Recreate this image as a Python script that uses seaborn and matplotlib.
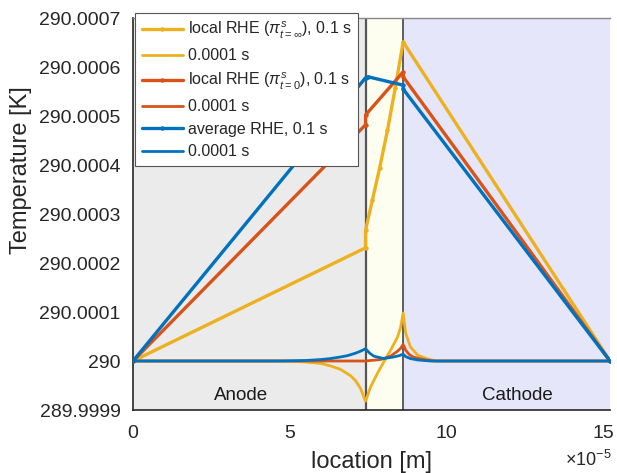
import matplotlib
matplotlib.use("Agg")
import matplotlib.pyplot as plt
from matplotlib.ticker import FixedLocator, FixedFormatter
import numpy as np
import pandas as pd
import seaborn as sns

# ---------------- data (x in 1e-5 m, temperature rise in 1e-4 K above 290 K) -------------
X_UNIT = 1e-5
T_BASE = 290.0
DT_UNIT = 1e-4

# region boundaries
anode_end = 7.42
membrane_end = 8.62
x_end = 15.22

# 0.1 s curves
yel_x_01 = [0, 7.42, 7.42, 7.64, 7.87, 8.12, 8.37, 8.62, 15.22]
yel_y_01 = [0, 2.31, 2.67, 3.29, 3.94, 4.71, 5.58, 6.51, 0]

ora_x_01 = [0, 7.42, 7.42, 8.62, 8.62, 15.22]
ora_y_01 = [0, 4.82, 5.02, 5.90, 5.80, 0]

blu_x_01 = [0, 7.42, 7.50, 8.62, 8.62, 15.22]
blu_y_01 = [0, 5.78, 5.80, 5.63, 5.55, 0]

# 0.0001 s curves
yel_x_1e4 = [0, 4.8, 5.5, 6.0, 6.3, 6.62, 6.94, 7.1, 7.26, 7.42, 7.58, 7.8, 8.0, 8.22,
             8.44, 8.54, 8.62, 8.7, 8.85, 9.08, 9.4, 9.7, 15.22]
yel_y_1e4 = [0, 0, -0.02, -0.05, -0.1, -0.17, -0.3, -0.4, -0.56, -0.82, -0.53, -0.25, -0.02, 0.22,
             0.49, 0.69, 0.98, 0.57, 0.29, 0.12, 0.04, 0.0, 0]

ora_x_1e4 = [0, 7.42, 7.9, 8.22, 8.44, 8.54, 8.62, 8.7, 8.82, 8.95, 9.27, 9.6, 15.22]
ora_y_1e4 = [0, 0, 0.03, 0.1, 0.2, 0.26, 0.34, 0.22, 0.13, 0.08, 0.03, 0, 0]

blu_x_1e4 = [0, 4.7, 5.5, 6.0, 6.3, 6.6, 6.85, 7.1, 7.26, 7.42, 7.55, 7.68, 8.0, 8.3, 8.5,
             8.62, 8.7, 8.85, 9.1, 9.5, 15.22]
blu_y_1e4 = [0, 0, 0.01, 0.03, 0.05, 0.08, 0.11, 0.16, 0.2, 0.25, 0.16, 0.1, 0.05, 0.08, 0.11,
             0.14, 0.09, 0.05, 0.02, 0, 0]

labels = [r"local RHE ($\pi^{s}_{t=\infty}$), 0.1 s", "0.0001 s",
          r"local RHE ($\pi^{s}_{t=0}$), 0.1 s", "0.0001 s",
          "average RHE, 0.1 s", "0.0001 s"]

ytick_vals = [289.9999, 290.0, 290.0001, 290.0002, 290.0003, 290.0004, 290.0005, 290.0006, 290.0007]
ytick_labels = ["289.9999", "290", "290.0001", "290.0002", "290.0003", "290.0004",
                "290.0005", "290.0006", "290.0007"]
xtick_vals = [0, 5, 10, 15]
xtick_labels = ["0", "5", "10", "15"]

# ---------------- style ----------------
sns.set_theme(style="white")
plt.rcParams["font.family"] = ["Liberation Sans", "DejaVu Sans"]
plt.rcParams["mathtext.fontset"] = "custom"
plt.rcParams["mathtext.rm"] = "Liberation Sans"
plt.rcParams["mathtext.it"] = "Liberation Sans:italic"
plt.rcParams["mathtext.bf"] = "Liberation Sans:bold"

C_BLUE = "#0072BD"
C_ORANGE = "#D95319"
C_YELLOW = "#EDB120"

fig = plt.figure(figsize=(6.17, 4.73), dpi=100)
ax = fig.add_axes([133 / 617, 1 - 410 / 473, 477 / 617, 392 / 473])

# regions
ax.axvspan(0, anode_end * X_UNIT, color="#EBEBEB", zorder=0, lw=0)
ax.axvspan(anode_end * X_UNIT, membrane_end * X_UNIT, color="#FDFDF0", zorder=0, lw=0)
ax.axvspan(membrane_end * X_UNIT, x_end * X_UNIT, color="#E6E6FA", zorder=0, lw=0)
ax.axvline(anode_end * X_UNIT, color="#555555", lw=1.6, zorder=1)
ax.axvline(membrane_end * X_UNIT, color="#444444", lw=1.2, zorder=1)


def frame(xs, ys):
    return pd.DataFrame({"x": np.array(xs) * X_UNIT, "T": T_BASE + np.array(ys) * DT_UNIT})


series = [
    (yel_x_01, yel_y_01, C_YELLOW, True),
    (yel_x_1e4, yel_y_1e4, C_YELLOW, False),
    (ora_x_01, ora_y_01, C_ORANGE, True),
    (ora_x_1e4, ora_y_1e4, C_ORANGE, False),
    (blu_x_01, blu_y_01, C_BLUE, True),
    (blu_x_1e4, blu_y_1e4, C_BLUE, False),
]

handles = []
for (xs, ys, col, mk), lab in zip(series, labels):
    kw = dict(marker="o", markersize=3.2, markeredgewidth=0) if mk else {}
    sns.lineplot(data=frame(xs, ys), x="x", y="T", ax=ax, color=col,
                 lw=2.4 if mk else 2.0, estimator=None, sort=False,
                 label=lab, zorder=3, **kw)
    handles.append(ax.lines[-1])

ax.set_xlim(0, x_end * X_UNIT)
ax.set_ylim(289.9999, 290.0007)

ax.yaxis.set_major_locator(FixedLocator(ytick_vals))
ax.yaxis.set_major_formatter(FixedFormatter(ytick_labels))
ax.xaxis.set_major_locator(FixedLocator([v * X_UNIT for v in xtick_vals]))
ax.xaxis.set_major_formatter(FixedFormatter(xtick_labels))
ax.tick_params(axis="both", length=0, labelsize=14, colors="#262626")
ax.tick_params(axis="y", pad=9)
ax.tick_params(axis="x", pad=11)

for side in ["left", "bottom"]:
    ax.spines[side].set_color("#262626")
    ax.spines[side].set_linewidth(1.2)
ax.spines["top"].set_color("#888888")
ax.spines["top"].set_linewidth(1.0)
ax.spines["right"].set_visible(False)

ax.set_xlabel("location [m]", fontsize=17, color="#262626")
ax.set_ylabel("Temperature [K]", fontsize=17, color="#262626")
ax.xaxis.set_label_coords(0.5, -0.105)
ax.yaxis.set_label_coords(-0.212, 0.612)

fig.text(612 / 617, 3 / 473, r"$\times$10$^{-5}$", ha="right", va="bottom",
         fontsize=13, color="#262626")

ax.text(3.44 * X_UNIT, 289.99993, "Anode", ha="center", va="center", fontsize=13.5, color="#1a1a1a")
ax.text(12.26 * X_UNIT, 289.99993, "Cathode", ha="center", va="center", fontsize=13.5, color="#1a1a1a")

leg = ax.legend(handles=handles, labels=labels, loc="upper left",
                bbox_to_anchor=(0.004, 1.013), borderaxespad=0, fontsize=11.5,
                frameon=True, fancybox=False, framealpha=1, edgecolor="#555555",
                handlelength=2.6, handletextpad=0.3, labelspacing=0.47, borderpad=0.42)
leg.get_frame().set_linewidth(0.8)
leg.set_zorder(5)

fig.savefig("out.png", dpi=100)
